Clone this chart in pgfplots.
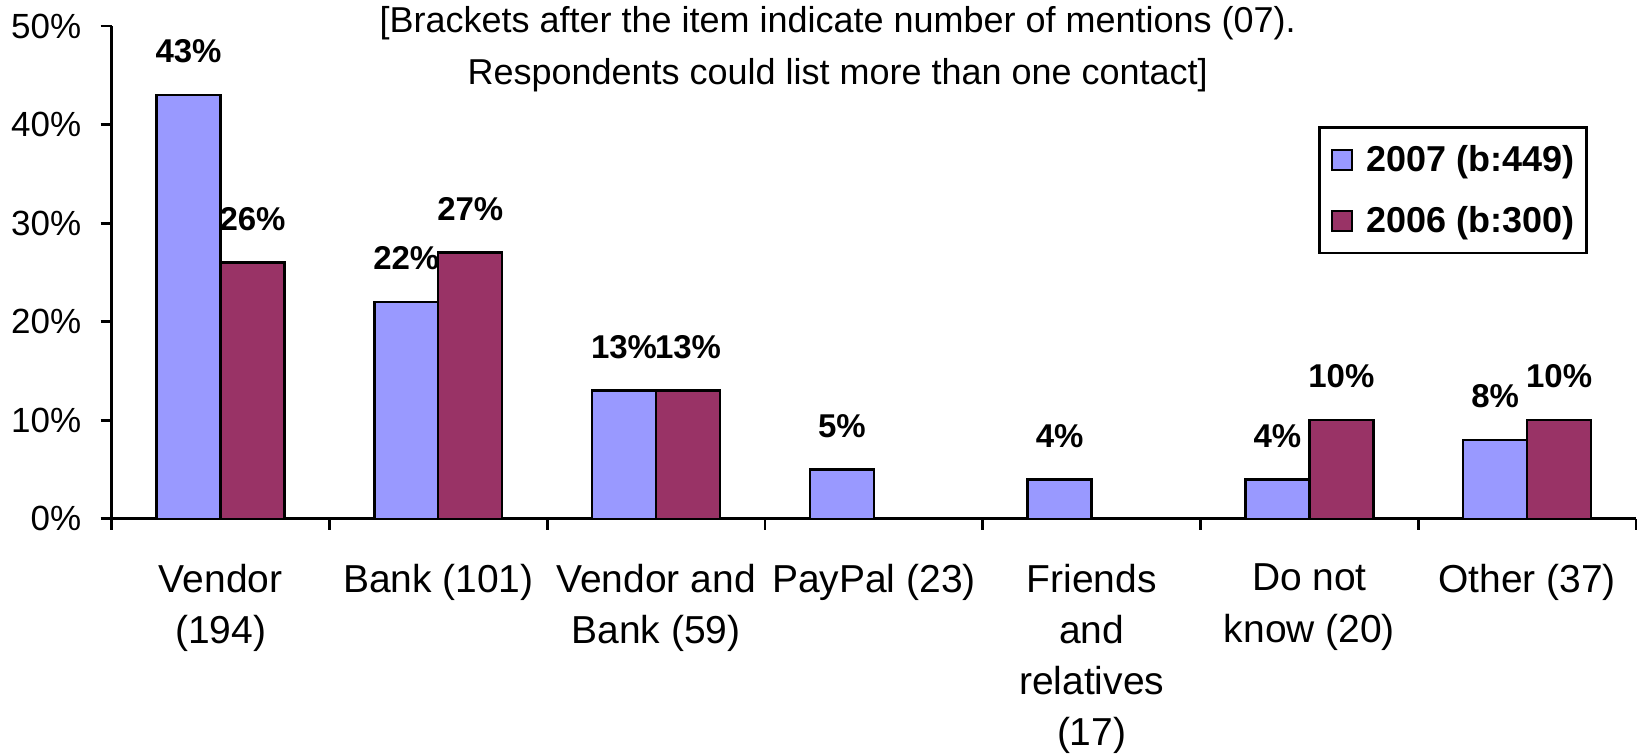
\documentclass[border=0pt]{standalone}
\usepackage{pgfplots}
\pgfplotsset{compat=1.18}
\usepackage{fontspec}
\setmainfont{Liberation Sans}
\definecolor{c07}{HTML}{9999FF}
\definecolor{c06}{HTML}{993366}
\begin{document}
\begin{tikzpicture}
\begin{axis}[
 width=762.5pt, height=246.5pt, scale only axis,
 xmin=-0.5, xmax=6.5, ymin=0, ymax=50,
 clip=false,
 axis x line*=bottom, axis y line*=left,
 axis line style={line width=1.4pt},
 ybar=0pt, bar width=32pt,
 tick align=outside, major tick length=5.5pt,
 tick style={line width=1.4pt, black},
 xtick={-0.5,0.5,...,6.5},
 xticklabels={{Vendor\\(194)},{Bank (101)},{Vendor and\\Bank (59)},{PayPal (23)},{Friends\\and\\relatives\\(17)},{Do not\\know (20)},{Other (37)},{}},
 xticklabel style={align=center, anchor=north, inner sep=0pt, xshift=54.5pt, yshift=-17pt, font=\fontsize{19.5}{25.6}\selectfont},
 ytick={0,10,...,50},
 yticklabel={\pgfmathprintnumber{\tick}\%},
 yticklabel style={font=\fontsize{17.5}{20}\selectfont, anchor=east, inner sep=0pt, xshift=-9.5pt},
 /pgf/number format/assume math mode=true,
 nodes near coords={\pgfmathprintnumber{\pgfplotspointmeta}\%},
 nodes near coords style={font=\bfseries\fontsize{16.5}{18}\selectfont, inner sep=0pt, yshift=15.4pt, /pgf/number format/assume math mode=true},
 legend style={at={(0.7915,0.7972)}, anchor=north west, draw=black, line width=1.3pt,
   font=\bfseries\fontsize{18}{18}\selectfont, inner xsep=6pt, inner ysep=1pt, row sep=0pt,
   nodes={inner sep=0pt, minimum height=30.5pt},
   /tikz/every odd column/.append style={column sep=6.5pt}},
 legend cell align=left,
]
\addplot[fill=c07, draw=black, line width=1.2pt,
  legend image code/.code={\draw[fill=c07, draw=black, line width=0.9pt] (0pt,-5pt) rectangle (10pt,5pt);}]
  coordinates {(0,43) (1,22) (2,13) (3,5) (4,4) (5,4) (6,8)};
\addplot[fill=c06, draw=black, line width=1.2pt,
  legend image code/.code={\draw[fill=c06, draw=black, line width=0.9pt] (0pt,-5pt) rectangle (10pt,5pt);}]
  coordinates {(0,26) (1,27) (2,13) (5,10) (6,10)};
\legend{2007 (b:449), 2006 (b:300)}
\node[align=center, font=\fontsize{18}{26}\selectfont, inner sep=0pt, yshift=-11.6pt] at (rel axis cs:0.4763,1)
  {[Brackets after the item indicate number of mentions (07).\\Respondents could list more than one contact]};
\end{axis}
\pgfresetboundingbox
\useasboundingbox (-55.85pt,-118pt) rectangle (763pt,259.5pt);
\end{tikzpicture}
\end{document}
